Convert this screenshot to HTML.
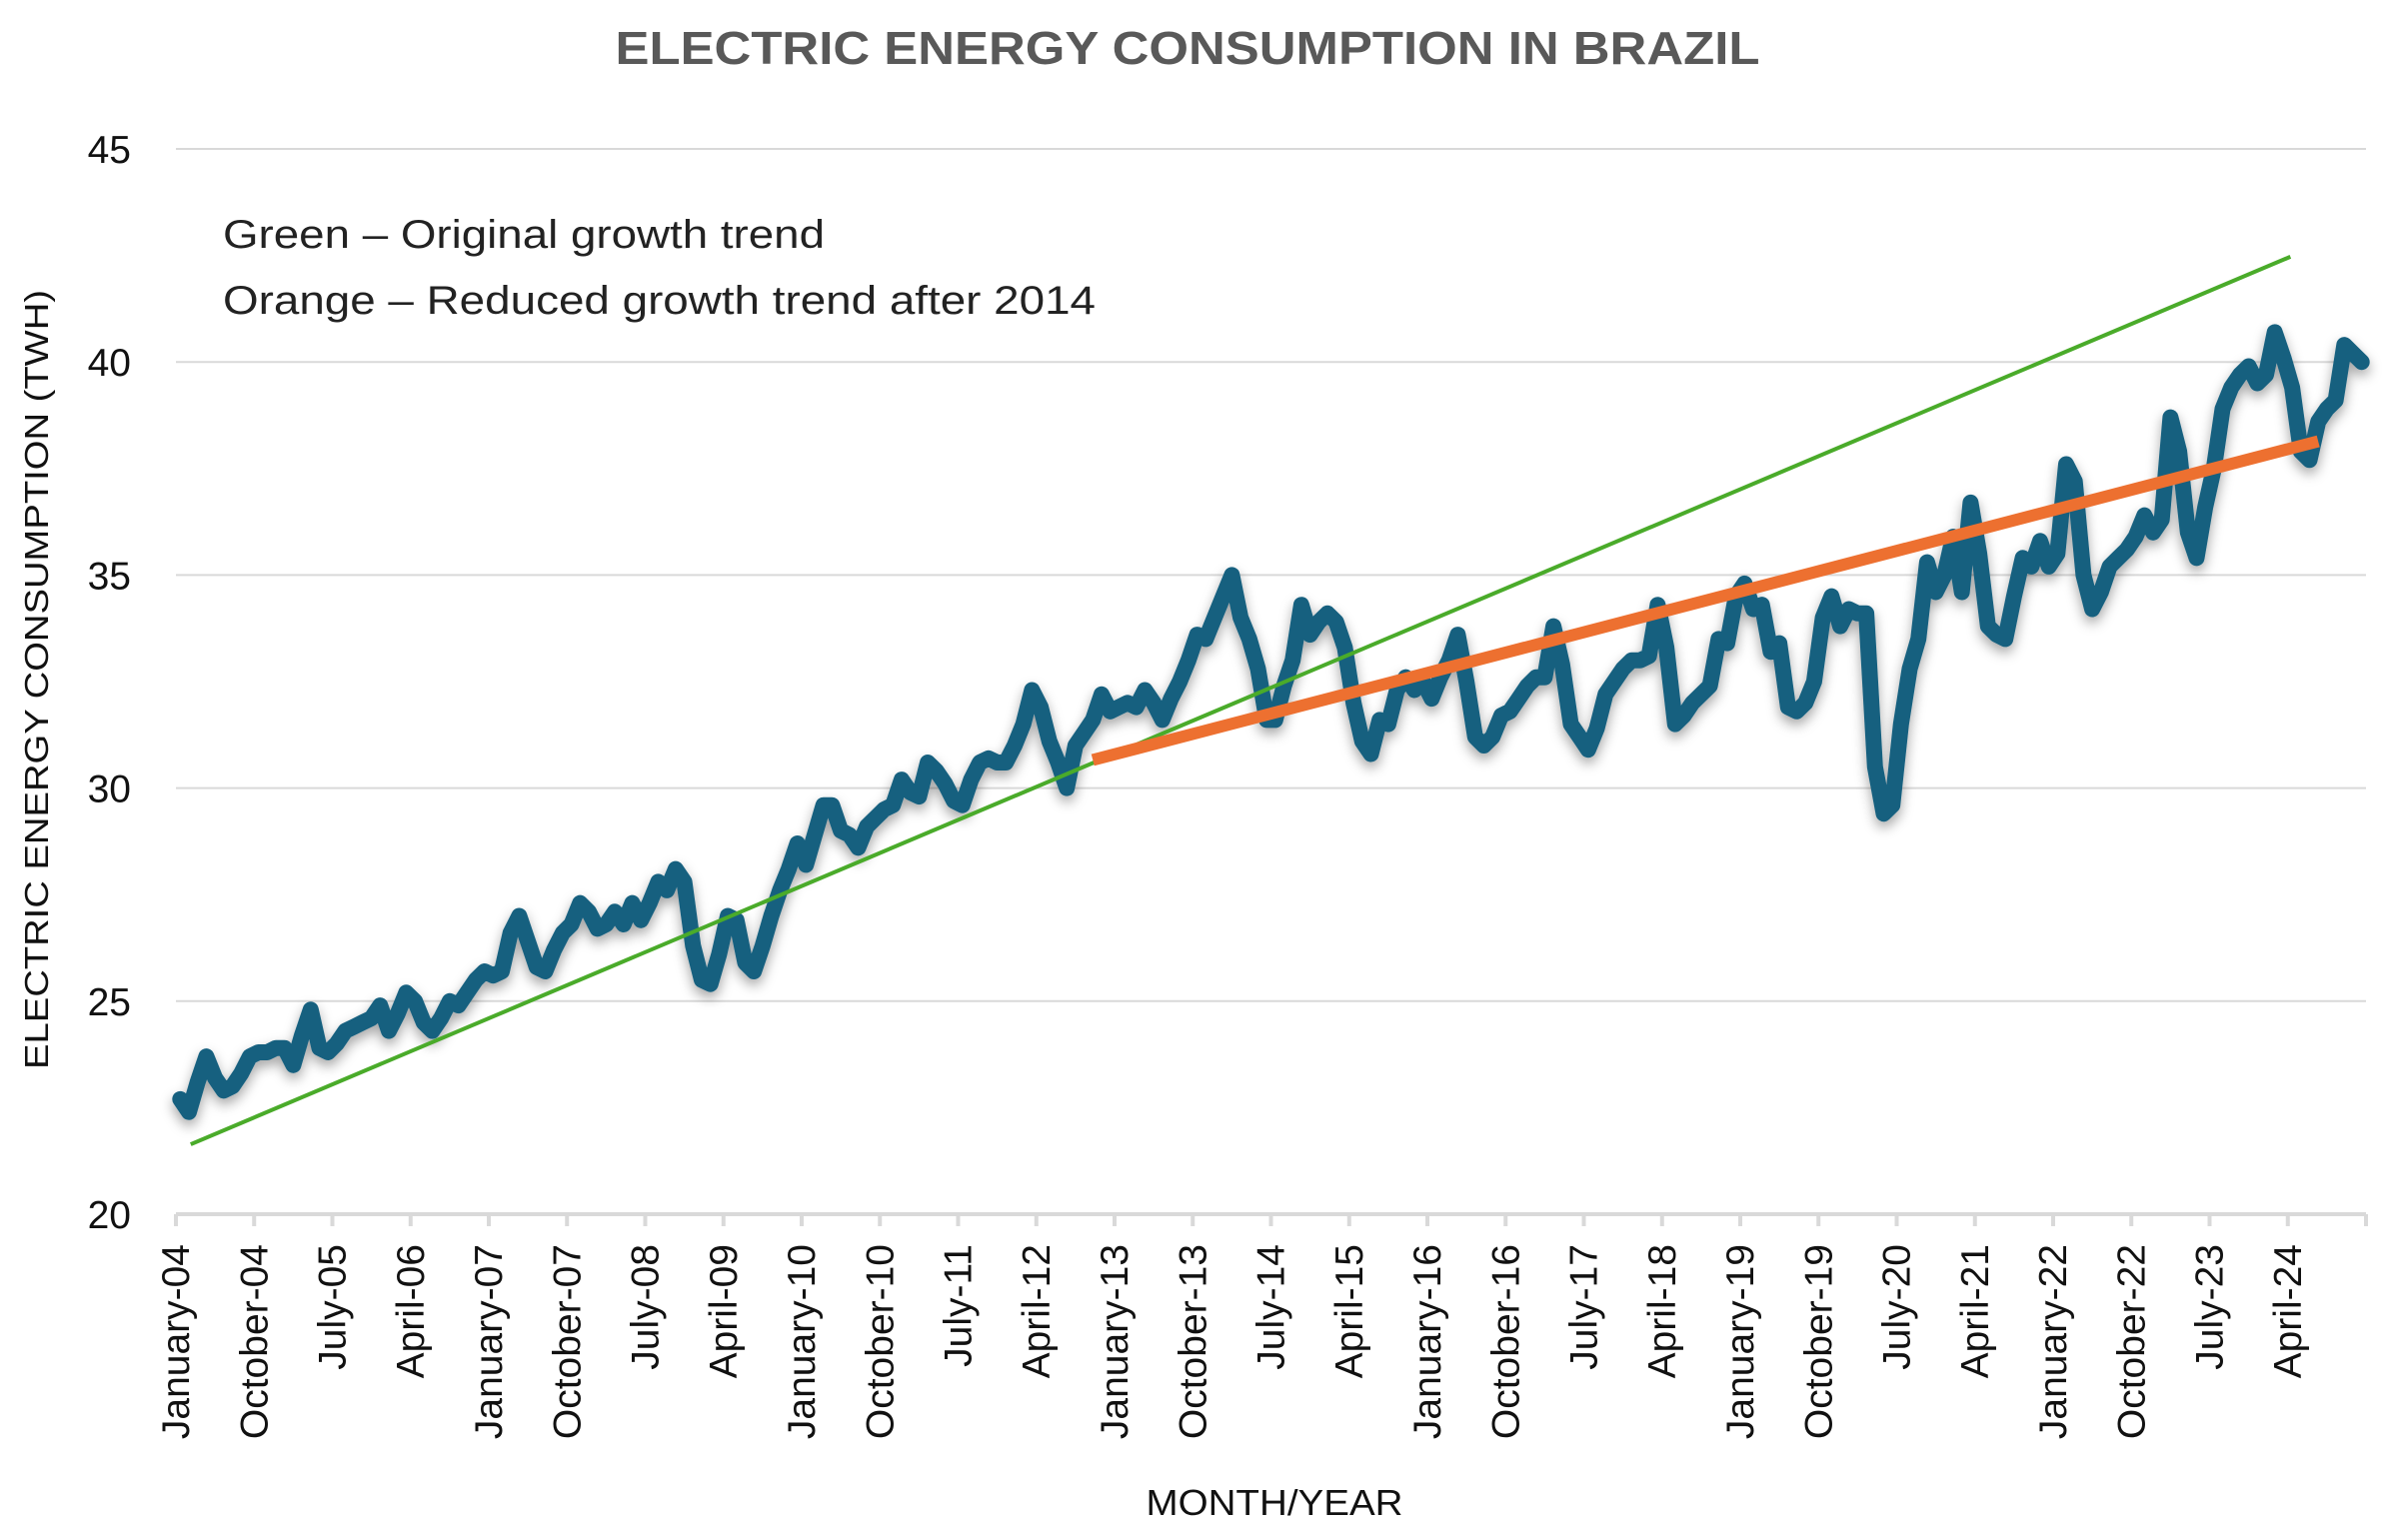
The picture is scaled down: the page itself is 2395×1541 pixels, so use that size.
<!DOCTYPE html>
<html><head><meta charset="utf-8"><style>
html,body{margin:0;padding:0;background:#fff;}
svg{display:block;font-family:"Liberation Sans",Arial,sans-serif;}
</style></head><body>
<svg id="chart" width="2395" height="1541" viewBox="0 0 2395 1541" xmlns="http://www.w3.org/2000/svg">
<defs>
<filter id="shadow" x="-5%" y="-10%" width="110%" height="130%">
<feDropShadow dx="0" dy="6" stdDeviation="6" flood-color="#000" flood-opacity="0.35"/>
</filter>
</defs>
<text x="1188" y="64" text-anchor="middle" font-size="46" font-weight="bold" fill="#595959" textLength="1145" lengthAdjust="spacingAndGlyphs">ELECTRIC ENERGY CONSUMPTION IN BRAZIL</text>
<g id="grid"></g>
<g id="yticks"></g>
<g id="xaxis"></g>
<g id="series"></g>
<text x="223" y="248" font-size="40" fill="#222" textLength="602" lengthAdjust="spacingAndGlyphs">Green – Original growth trend</text>
<text x="223" y="314" font-size="40" fill="#222" textLength="873" lengthAdjust="spacingAndGlyphs">Orange – Reduced growth trend after 2014</text>
<text transform="translate(48,680) rotate(-90)" text-anchor="middle" font-size="33" fill="#111" textLength="780" lengthAdjust="spacingAndGlyphs">ELECTRIC ENERGY CONSUMPTION (TWH)</text>
<text x="1275" y="1516" text-anchor="middle" font-size="36" fill="#111" textLength="257" lengthAdjust="spacingAndGlyphs">MONTH/YEAR</text>
</svg>
<script>
const yTicks = [20, 25, 30, 35, 40, 45];
const monthNames = ["January","February","March","April","May","June","July","August","September","October","November","December"];
const startYear = 2004;
const consumption = [
22.7,22.4,23.1,23.7,23.2,22.9,23.0,23.3,23.7,23.8,23.8,23.9,
23.9,23.5,24.2,24.8,23.9,23.8,24.0,24.3,24.4,24.5,24.6,24.9,
24.3,24.7,25.2,25.0,24.5,24.3,24.6,25.0,24.9,25.2,25.5,25.7,
25.6,25.7,26.6,27.0,26.4,25.8,25.7,26.2,26.6,26.8,27.3,27.1,
26.7,26.8,27.1,26.8,27.3,26.9,27.3,27.8,27.6,28.1,27.8,26.3,
25.5,25.4,26.1,27.0,26.9,25.9,25.7,26.3,27.0,27.6,28.1,28.7,
28.2,28.9,29.6,29.6,29.0,28.9,28.6,29.1,29.3,29.5,29.6,30.2,
29.9,29.8,30.6,30.4,30.1,29.7,29.6,30.2,30.6,30.7,30.6,30.6,
31.0,31.5,32.3,31.9,31.1,30.6,30.0,31.0,31.3,31.6,32.2,31.8,
31.9,32.0,31.9,32.3,32.0,31.6,32.1,32.5,33.0,33.6,33.5,34.0,
34.5,35.0,34.0,33.5,32.8,31.6,31.6,32.4,33.0,34.3,33.6,33.9,
34.1,33.9,33.3,32.0,31.1,30.8,31.6,31.5,32.3,32.6,32.3,32.5,
32.1,32.6,33.0,33.6,32.5,31.2,31.0,31.2,31.7,31.8,32.1,32.4,
32.6,32.6,33.8,32.9,31.5,31.2,30.9,31.4,32.2,32.5,32.8,33.0,
33.0,33.1,34.3,33.3,31.5,31.7,32.0,32.2,32.4,33.5,33.4,34.5,
34.8,34.2,34.3,33.2,33.4,31.9,31.8,32.0,32.5,34.0,34.5,33.8,
34.2,34.1,34.1,30.5,29.4,29.6,31.5,32.8,33.5,35.3,34.6,35.0,
35.9,34.6,36.7,35.5,33.8,33.6,33.5,34.5,35.4,35.2,35.8,35.2,
35.5,37.6,37.2,35.0,34.2,34.6,35.2,35.4,35.6,35.9,36.4,36.0,
36.3,38.7,37.9,36.0,35.4,36.6,37.5,38.9,39.4,39.7,39.9,39.5,
39.7,40.7,40.1,39.4,37.9,37.7,38.6,38.9,39.1,40.4,40.2,40.0
];
const greenTrendIdx = [1.2, 242.8];
const greenTrendVal = [21.64, 42.47];
const orangeTrendIdx = [105, 246];
const orangeTrendVal = [30.66, 38.14];

const NS = "http://www.w3.org/2000/svg";
const plotLeft = 176, plotRight = 2367, plotTop = 149, plotBottom = 1215;
const nCat = consumption.length;
const cw = (plotRight - plotLeft) / nCat;
const yMin = 20, yMax = 45;
function xPos(i){ return plotLeft + (i + 0.5) * cw; }
function xEdge(i){ return plotLeft + i * cw; }
function yPos(v){ return plotBottom - (v - yMin) / (yMax - yMin) * (plotBottom - plotTop); }
function mk(tag, attrs, parent){ const e = document.createElementNS(NS, tag); for (const k in attrs) e.setAttribute(k, attrs[k]); parent.appendChild(e); return e; }

const grid = document.getElementById('grid');
const yt = document.getElementById('yticks');
yTicks.forEach(v => {
  if (v !== yMin) {
    const l = mk('line', {x1: plotLeft, x2: plotRight, y1: yPos(v), y2: yPos(v), stroke: '#d9d9d9', 'stroke-width': 2}, grid);
    
    
  }
  const t = mk('text', {x: 131, y: yPos(v) + 14, 'text-anchor': 'end', 'font-size': 39, fill: '#111'}, yt);
  t.textContent = v;
  
  
});

const xa = document.getElementById('xaxis');
const axl = mk('line', {x1: plotLeft, x2: plotRight, y1: plotBottom, y2: plotBottom, stroke: '#d9d9d9', 'stroke-width': 4}, xa);


for (let i = 0; i <= nCat; i += 9) {
  const x = xEdge(i);
  const tk = mk('line', {x1: x, x2: x, y1: plotBottom, y2: plotBottom + 12, stroke: '#d9d9d9', 'stroke-width': 4}, xa);
  
  
  if (i < nCat) {
    const label = monthNames[i % 12] + '-' + String((startYear + Math.floor(i / 12)) % 100).padStart(2, '0');
    const t = mk('text', {transform: 'translate(' + (x + 13) + ',1245) rotate(-90)', 'text-anchor': 'end', 'font-size': 39, fill: '#111'}, xa);
    t.textContent = label;
    
    
  }
}

const sg = document.getElementById('series');
const pts = consumption.map((v, i) => xPos(i).toFixed(1) + ',' + yPos(v).toFixed(1)).join(' ');
const line = mk('polyline', {points: pts, fill: 'none', stroke: '#17607f', 'stroke-width': 16, 'stroke-linejoin': 'round', 'stroke-linecap': 'round', filter: 'url(#shadow)'}, sg);



const g = mk('line', {x1: xPos(greenTrendIdx[0]), y1: yPos(greenTrendVal[0]), x2: xPos(greenTrendIdx[1]), y2: yPos(greenTrendVal[1]), stroke: '#4aab2a', 'stroke-width': 4}, sg);



const o = mk('line', {x1: xPos(orangeTrendIdx[0]), y1: yPos(orangeTrendVal[0]), x2: xPos(orangeTrendIdx[1]), y2: yPos(orangeTrendVal[1]), stroke: '#ed7030', 'stroke-width': 12}, sg);


</script>
</body></html>
